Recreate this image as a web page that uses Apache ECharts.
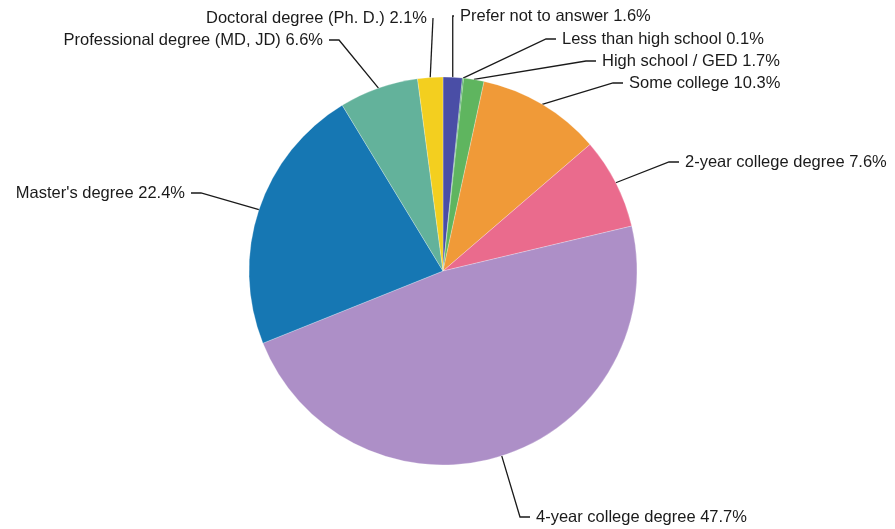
<!DOCTYPE html>
<html>
<head>
<meta charset="utf-8">
<script src="https://cdn.jsdelivr.net/npm/echarts@6/dist/echarts.min.js"></script>
<style>
  html, body { margin: 0; padding: 0; background: #ffffff; }
  #chart { width: 895px; height: 529px; }
</style>
</head>
<body>
<div id="chart"></div>
<script>
// Highest level of education, share of respondents (%)
const categories = [
  'Prefer not to answer',
  'Less than high school',
  'High school / GED',
  'Some college',
  '2-year college degree',
  '4-year college degree',
  "Master's degree",
  'Professional degree (MD, JD)',
  'Doctoral degree (Ph. D.)'
];
const shares = [1.6, 0.1, 1.7, 10.3, 7.6, 47.7, 22.4, 6.6, 2.1];
const colors = ['#4a4ea6', '#3f9f62', '#5fb55f', '#f09a38', '#ea6b8d', '#ad8fc7', '#1677b3', '#63b29b', '#f3cf1f'];

// Text edge of each label: [x, y, align]
const labelSpots = [
  [460, 16, 'left'],
  [562, 39, 'left'],
  [602, 61, 'left'],
  [629, 83, 'left'],
  [685, 162, 'left'],
  [536, 517, 'left'],
  [185, 193, 'right'],
  [323, 40, 'right'],
  [427, 18, 'right']
];
const labelGap = 6;

const chart = echarts.init(document.getElementById('chart'), null, { renderer: 'canvas' });

chart.setOption({
  backgroundColor: '#ffffff',
  animation: false,
  series: [{
    type: 'pie',
    center: [443, 271],
    radius: [0, 194],
    startAngle: 90,
    clockwise: true,
    avoidLabelOverlap: false,
    data: categories.map((name, i) => ({
      name,
      value: shares[i],
      itemStyle: { color: colors[i] }
    })),
    itemStyle: { borderColor: 'rgba(255,255,255,0.5)', borderWidth: 0.5 },
    label: {
      show: true,
      position: 'outside',
      formatter: p => p.name + ' ' + p.value.toFixed(1) + '%',
      fontFamily: '"Liberation Sans", Arial, sans-serif',
      fontSize: 16.5,
      color: '#1a1a1a',
      // transparent box so the leader line stops short of the text
      backgroundColor: 'rgba(255,255,255,0.01)',
      padding: [0, labelGap]
    },
    labelLine: {
      show: true,
      length: 20,
      length2: 10,
      smooth: false,
      lineStyle: { color: '#1a1a1a', width: 1.3 }
    },
    labelLayout: params => {
      const s = labelSpots[params.dataIndex];
      const x = s[2] === 'left' ? s[0] - labelGap : s[0] + labelGap;
      return { x: x, y: s[1], align: s[2], verticalAlign: 'middle' };
    },
    emphasis: { disabled: true }
  }]
});
</script>
</body>
</html>
